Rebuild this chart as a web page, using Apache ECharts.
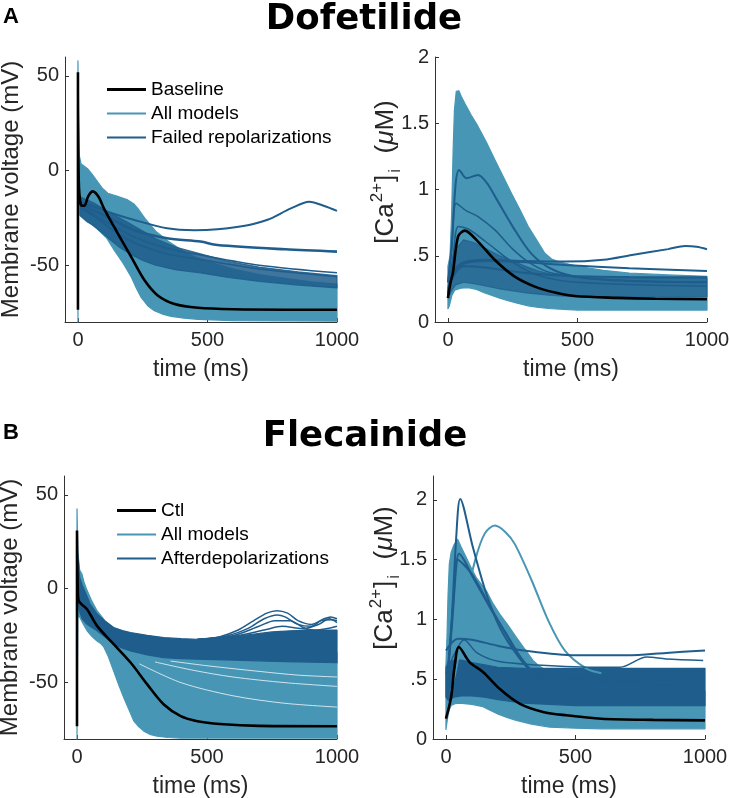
<!DOCTYPE html>
<html>
<head>
<meta charset="utf-8">
<title>Dofetilide / Flecainide</title>
<script src="https://cdn.jsdelivr.net/npm/echarts@6.0.0/dist/echarts.min.js"></script>
<style>
  html, body { margin: 0; padding: 0; background: #fff; }
  #chart { width: 730px; height: 798px; }
</style>
</head>
<body>
<div id="chart"></div>
<script>
const LIGHT = '#4796b5'
const DARK = '#1f5d8c'
const AXIS = '#333333'
const FONT = '"Liberation Sans", Arial, sans-serif'

// ---------- data: [time (ms), value] ----------
// A, membrane voltage (mV)
const alBaseline = [[0,-73.5],[0,52],[3,-5],[11,-18],[24,-18.6],[40,-13.5],[57,-11],[80,-14],[102,-20.5],[153,-33],[205,-45.5],[257,-58],[308,-66],[373,-70.5],[463,-72.5],[600,-73.3],[800,-73.5],[1000,-73.5]]
const alAllUpper = [[0,58],[2,30],[5,8],[12,3.5],[18,3],[37,1],[55,-2],[76,-6],[95,-9.5],[115,-12],[150,-13.5],[192,-15.5],[215,-17.5],[231,-20],[257,-25],[300,-32],[350,-37.5],[400,-42],[450,-45.5],[500,-48],[600,-52],[700,-55],[800,-57],[900,-58.8],[1000,-60]]
const alAllLower = [[0,-80],[2,-23],[11,-24],[40,-27],[76,-31],[110,-35.5],[140,-42],[175,-49],[205,-56],[225,-62],[244,-67],[270,-71.5],[295,-74],[330,-76],[360,-77],[410,-78],[463,-78.6],[600,-79.3],[1000,-79.5]]
const alFailUpper = [[10,-14],[35,-15.5],[60,-17],[90,-19.5],[120,-22],[160,-25],[200,-28],[250,-32],[300,-36],[380,-40.5],[473,-44],[580,-48],[700,-51],[850,-53.5],[1000,-55.5]]
const alFailLower = [[10,-24],[35,-27],[60,-29],[90,-32.5],[120,-36],[160,-40.5],[200,-44],[250,-47.5],[300,-50],[380,-52.5],[473,-54],[580,-56.5],[700,-58.5],[850,-60.5],[1000,-62]]
const alFail1 = [[10,-17],[60,-19],[120,-22],[215,-26],[344,-30.5],[450,-31.5],[538,-31],[650,-29],[732,-26],[822,-20],[893,-16.5],[951,-18.7],[1000,-21.3]]
const alFail2 = [[10,-18],[60,-21],[120,-25],[215,-31.4],[344,-35.8],[473,-37.5],[538,-39.3],[800,-41.6],[1000,-42.8]]
const alFail3 = [[10,-19],[60,-23],[120,-28],[215,-35],[344,-41],[473,-44.6],[700,-50],[1000,-54]]
const alFail4 = [[10,-20],[60,-24],[120,-30],[215,-38],[344,-44],[473,-47],[700,-52],[1000,-56]]

// A, [Ca2+]i (uM)
const arBaseline = [[0,0.18],[10,0.3],[19,0.37],[39,0.645],[65,0.69],[116,0.607],[181,0.468],[258,0.342],[335,0.267],[413,0.222],[490,0.196],[650,0.182],[800,0.175],[1000,0.172]]
const arAllUpper = [[0,0.42],[8,0.5],[14,0.8],[20,1.3],[25,1.6],[32,1.74],[42,1.745],[52,1.7],[65,1.65],[90,1.56],[116,1.476],[150,1.35],[181,1.224],[215,1.09],[245,0.972],[280,0.84],[310,0.72],[345,0.61],[374,0.519],[400,0.475],[426,0.456],[500,0.42],[600,0.39],[700,0.37],[850,0.355],[1000,0.345]]
const arAllLower = [[0,0.1],[5,0.12],[15,0.2],[26,0.24],[50,0.255],[78,0.26],[110,0.245],[142,0.22],[170,0.2],[200,0.18],[235,0.16],[271,0.14],[310,0.122],[350,0.11],[400,0.1],[500,0.09],[700,0.09],[1000,0.09]]
const arFailUpper = [[5,0.32],[18,0.45],[30,0.55],[60,0.62],[100,0.6],[150,0.55],[200,0.5],[250,0.46],[300,0.42],[350,0.385],[400,0.36],[500,0.34],[700,0.335],[1000,0.33]]
const arFailLower = [[5,0.2],[18,0.25],[30,0.28],[60,0.3],[100,0.29],[150,0.27],[200,0.25],[250,0.235],[300,0.22],[350,0.21],[400,0.2],[500,0.19],[700,0.19],[1000,0.19]]
const arFail1 = [[0,0.3],[15,0.6],[30,1.05],[43,1.148],[71,1.085],[116,1.11],[150,1.05],[181,0.95],[250,0.72],[320,0.52],[400,0.4],[500,0.34],[700,0.31],[1000,0.3]]
const arFail2 = [[0,0.3],[15,0.55],[32,0.897],[70,0.84],[116,0.796],[181,0.695],[250,0.55],[320,0.44],[400,0.37],[600,0.32],[1000,0.3]]
const arFail3 = [[0,0.22],[20,0.38],[60,0.45],[150,0.47],[300,0.46],[452,0.456],[600,0.47],[710,0.506],[850,0.55],[916,0.574],[960,0.568],[1000,0.549]]
const arFail4 = [[0,0.22],[20,0.36],[60,0.44],[150,0.46],[300,0.45],[452,0.43],[700,0.405],[1000,0.385]]
const arFail5 = [[0,0.2],[20,0.34],[60,0.42],[150,0.41],[300,0.37],[452,0.35],[700,0.34],[1000,0.338]]
const arFail6 = [[0,0.25],[20,0.5],[40,0.72],[80,0.7],[150,0.6],[250,0.45],[350,0.35],[500,0.3],[1000,0.27]]

// B, membrane voltage (mV)
const blCtl = [[0,-73.2],[0,31],[3,0],[6.5,-6.4],[38.6,-10.9],[77,-19.8],[141,-29.5],[206,-39.3],[270,-50.9],[334,-61.6],[399,-67.8],[463,-70.5],[550,-72],[700,-73],[1000,-73.2]]
const blAllUpper = [[0,42.5],[3,20],[10,10],[19,7.8],[28,3],[39,-1],[55,-6],[77,-11.7],[110,-17.5],[150,-22],[200,-25],[250,-27],[320,-28.8],[400,-30],[500,-31],[600,-32],[800,-33],[1000,-34]]
const blAllLower = [[0,-80],[3,-14],[11,-15.3],[25,-19],[39,-22.4],[58,-25.5],[77,-27.8],[90,-29],[103,-31],[120,-36],[141,-43.8],[160,-51],[180,-58],[200,-64.5],[219,-70.5],[238,-73.5],[257,-75.8],[280,-77.5],[308,-78.5],[350,-79.2],[400,-79.5],[1000,-79.5]]
const blAfterUpper = [[5,15],[10,6],[20,2],[35,-3],[50,-8],[77,-13.5],[110,-17.5],[141,-20.7],[175,-22.3],[206,-23.3],[270,-24.8],[334,-26],[400,-26.6],[463,-26.9],[530,-26.4],[600,-25.5],[680,-24.2],[750,-23],[820,-22.4],[900,-22],[1000,-22]]
const blAfterLower = [[5,-8],[10,-12],[20,-16],[35,-18.5],[50,-20],[77,-22.4],[110,-26],[141,-29.5],[175,-31.6],[206,-33.1],[270,-35.2],[334,-36.7],[400,-37.2],[463,-37.5],[600,-38],[800,-38.8],[1000,-39.4]]
const blAfter1 = [[463,-27],[550,-25.5],[620,-22],[680,-17],[730,-13],[769,-11.7],[810,-13],[850,-17],[900,-19],[950,-16],[975,-15],[1000,-16]]
const blAfter2 = [[463,-27],[580,-25],[660,-21],[720,-16],[770,-14],[800,-15],[850,-19],[900,-20],[940,-17],[980,-16.5],[1000,-17]]
const blAfter3 = [[463,-27],[600,-25],[700,-20],[760,-17],[820,-17],[880,-21],[930,-19],[970,-16],[1000,-18]]
const blAfter4 = [[463,-27],[620,-25],[720,-22],[790,-20],[850,-21],[920,-22],[1000,-20]]
// thin white gaps between the light traces, right half of panel B left
const blGap1 = [[300,-39],[450,-43.5],[600,-47],[800,-50],[1000,-52]]
const blGap2 = [[360,-38.5],[500,-41],[700,-44],[850,-46],[1000,-47]]
const blGap3 = [[240,-40],[400,-50],[600,-57],[800,-61],[1000,-63]]

// B, [Ca2+]i (uM)
const brCtl = [[0,0.17],[20,0.35],[33,0.6],[50,0.77],[91,0.643],[143,0.56],[207,0.42],[284,0.296],[375,0.226],[465,0.198],[600,0.17],[800,0.16],[1000,0.156]]
const brAllUpper = [[0,0.62],[4,0.85],[8,1.2],[13,1.465],[20,1.56],[30,1.62],[45,1.67],[60,1.6],[78,1.52],[100,1.42],[117,1.35],[135,1.3],[156,1.24],[180,1.14],[207,1.047],[240,0.95],[271,0.852],[305,0.75],[336,0.657],[360,0.61],[387,0.574],[420,0.535],[450,0.5],[520,0.45],[600,0.42],[800,0.4],[1000,0.4]]
const brAllLower = [[0,0.08],[4,0.14],[8,0.2],[14,0.25],[20,0.28],[35,0.295],[53,0.3],[100,0.29],[143,0.27],[170,0.24],[200,0.21],[235,0.18],[271,0.156],[330,0.125],[400,0.1],[500,0.09],[600,0.085],[1000,0.085]]
const brAfterUpper = [[0,0.6],[10,0.64],[30,0.66],[60,0.66],[100,0.64],[150,0.62],[200,0.6],[300,0.59],[500,0.59],[1000,0.59]]
const brAfterLower = [[0,0.35],[10,0.32],[30,0.35],[60,0.36],[100,0.36],[150,0.35],[200,0.33],[300,0.3],[400,0.29],[500,0.28],[1000,0.28]]
const brAfter1 = [[5,0.5],[20,0.9],[40,1.7],[55,2.008],[104,1.604],[156,1.215],[207,0.936],[271,0.713],[336,0.56],[450,0.52],[700,0.5],[1000,0.5]]
const brAfter2 = [[5,0.5],[25,1.0],[40,1.45],[50,1.549],[104,1.353],[169,1.103],[233,0.88],[297,0.657],[362,0.518],[450,0.48],[1000,0.45]]
const brAfter3 = [[0,0.74],[46,0.839],[100,0.83],[200,0.78],[300,0.74],[500,0.7],[700,0.7],[850,0.72],[1000,0.741]]
const brAfter4 = [[0,0.55],[30,0.7],[70,0.83],[120,0.72],[200,0.65],[350,0.62],[600,0.6],[672,0.6],[775,0.685],[850,0.67],[993,0.657]]
const brAfter5 = [[5,0.5],[30,1.2],[45,1.5],[100,1.38],[160,1.15],[220,0.92],[280,0.7],[340,0.55],[420,0.5],[1000,0.46]]
const brAll1 = [[20,0.4],[45,0.65],[73,1.1],[112,1.49],[150,1.72],[189,1.785],[230,1.73],[266,1.63],[331,1.326],[395,0.99],[459,0.74],[543,0.588],[600,0.55]]

const timeTicks = [0, 500, 1000]
const voltTicks = [-50, 0, 50]
const caTicks = [0, 0.5, 1, 1.5, 2]

// ---------- helpers ----------
function band(name, upper, lower, color, gi, opacity) {
  const pts = upper.concat(lower.slice().reverse())
  return {
    type: 'custom', name, xAxisIndex: gi, yAxisIndex: gi, data: pts,
    encode: { x: 0, y: 1 }, silent: true,
    renderItem(params, api) {
      if (params.dataIndex !== 0) return null
      return {
        type: 'polygon',
        shape: { points: pts.map((p) => api.coord(p)) },
        style: { fill: color, stroke: color, lineWidth: 1.2, lineJoin: 'round', opacity: opacity || 1 },
      }
    },
  }
}

function trace(name, pts, color, gi, width, opacity) {
  return {
    type: 'line', name, xAxisIndex: gi, yAxisIndex: gi, data: pts,
    symbol: 'none', smooth: 0.3, silent: true,
    lineStyle: { color, width: width || 1.5, opacity: opacity == null ? 1 : opacity },
    itemStyle: { color },
  }
}

function xAxis(gi) {
  return {
    type: 'value', gridIndex: gi, min: -50, max: 1000,
    name: 'time (ms)', nameLocation: 'middle', nameGap: 36,
    nameTextStyle: { fontSize: 23, color: '#262626', fontFamily: FONT },
    axisLine: { onZero: false, lineStyle: { color: AXIS } },
    axisTick: { inside: true, length: 4, customValues: timeTicks, lineStyle: { color: AXIS } },
    axisLabel: { customValues: timeTicks, fontSize: 20, color: '#262626', fontFamily: FONT, margin: 8, formatter: (v) => String(v) },
    splitLine: { show: false },
  }
}

function yAxis(gi, min, max, ticks, name, fmt) {
  return {
    type: 'value', gridIndex: gi, min, max,
    name, nameLocation: 'middle', nameGap: 42,
    nameTextStyle: { fontSize: 24, color: '#262626', fontFamily: FONT },
    axisLine: { show: true, onZero: false, lineStyle: { color: AXIS } },
    axisTick: { show: true, inside: true, length: 4, customValues: ticks, lineStyle: { color: AXIS } },
    axisLabel: { customValues: ticks, fontSize: 20, color: '#262626', fontFamily: FONT, margin: 6, formatter: fmt || ((v) => String(v)) },
    splitLine: { show: false },
  }
}

const caFmt = (v) => (v === 0 ? '0' : String(v).replace(/^0\./, '.'))

// rotated [Ca2+]i label, drawn as rich text
function caLabel(x, y) {
  return {
    type: 'text', x, y, rotation: Math.PI / 2, silent: true,
    style: {
      text: '[Ca{sup|2+}]{sub|i}  ({mu|μ}M)',
      font: '26px ' + FONT, fill: '#262626', align: 'center', verticalAlign: 'middle', lineHeight: 35,
      rich: {
        sup: { fontSize: 17, fontFamily: FONT, verticalAlign: 'top', lineHeight: 17, padding: [0, 1, 0, 1] },
        sub: { fontSize: 17, fontFamily: FONT, verticalAlign: 'bottom', lineHeight: 17, padding: [0, 1, 0, 2] },
        mu: { fontSize: 26, fontFamily: FONT, fontStyle: 'italic' },
      },
    },
  }
}

const lineIcon = (h) => 'path://M0,0H40V' + h + 'H0Z'

const chart = echarts.init(document.getElementById('chart'))
chart.setOption({
  backgroundColor: '#fff',
  animation: false,
  grid: [
    { left: 65, top: 57, width: 272, height: 265, outerBoundsMode: 'none' },
    { left: 435, top: 57, width: 272, height: 265, outerBoundsMode: 'none' },
    { left: 64, top: 476, width: 273, height: 263, outerBoundsMode: 'none' },
    { left: 433, top: 476, width: 272, height: 263, outerBoundsMode: 'none' },
  ],
  xAxis: [xAxis(0), xAxis(1), xAxis(2), xAxis(3)],
  yAxis: [
    yAxis(0, -80, 60, voltTicks, 'Membrane voltage (mV)'),
    yAxis(1, 0, 2, caTicks, '', caFmt),
    yAxis(2, -80, 60, voltTicks, 'Membrane voltage (mV)'),
    yAxis(3, 0, 2.2, caTicks, '', caFmt),
  ],
  legend: [
    {
      left: 107, top: 80, padding: 0, orient: 'vertical', itemWidth: 39, itemHeight: 4, itemGap: 5,
      selectedMode: false,
      textStyle: { fontSize: 19, color: '#000', fontFamily: FONT },
      data: [
        { name: 'Baseline', icon: lineIcon(3.2), itemStyle: { color: '#000' } },
        { name: 'All models', icon: lineIcon(2.2), itemStyle: { color: LIGHT } },
        { name: 'Failed repolarizations', icon: lineIcon(2.2), itemStyle: { color: DARK } },
      ],
    },
    {
      left: 117, top: 501, padding: 0, orient: 'vertical', itemWidth: 39, itemHeight: 4, itemGap: 5,
      selectedMode: false,
      textStyle: { fontSize: 19, color: '#000', fontFamily: FONT },
      data: [
        { name: 'Ctl', icon: lineIcon(3.2), itemStyle: { color: '#000' } },
        { name: 'All models', icon: lineIcon(2.2), itemStyle: { color: LIGHT } },
        { name: 'Afterdepolarizations', icon: lineIcon(2.2), itemStyle: { color: DARK } },
      ],
    },
  ],
  graphic: [
    { type: 'text', left: 3, top: 6, style: { text: 'A', font: 'bold 22px ' + FONT, fill: '#000' } },
    { type: 'text', left: 3, top: 422, style: { text: 'B', font: 'bold 22px ' + FONT, fill: '#000' } },
    { type: 'text', x: 364, y: 20, style: { text: 'Dofetilide', font: 'bold 35.5px "DejaVu Sans"', fill: '#000', align: 'center', verticalAlign: 'middle' } },
    { type: 'text', x: 365, y: 437, style: { text: 'Flecainide', font: 'bold 35.5px "DejaVu Sans"', fill: '#000', align: 'center', verticalAlign: 'middle' } },
    caLabel(386, 172),
    caLabel(385, 578),
  ],
  series: [
    // A left
    band('All models', alAllUpper, alAllLower, LIGHT, 0),
    band('Failed repolarizations', alFailUpper, alFailLower, DARK, 0, 0.85),
    trace('Failed repolarizations', alFail1, DARK, 0, 2),
    trace('Failed repolarizations', alFail2, DARK, 0, 2.6),
    trace('Failed repolarizations', alFail3, DARK, 0),
    trace('Failed repolarizations', alFail4, DARK, 0),
    trace('Baseline', alBaseline, '#000', 0, 2.6),
    // A right
    band('All models', arAllUpper, arAllLower, LIGHT, 1),
    band('Failed repolarizations', arFailUpper, arFailLower, DARK, 1, 0.7),
    trace('Failed repolarizations', arFail1, DARK, 1, 2),
    trace('Failed repolarizations', arFail2, DARK, 1),
    trace('Failed repolarizations', arFail3, DARK, 1, 2),
    trace('Failed repolarizations', arFail4, DARK, 1, 2),
    trace('Failed repolarizations', arFail5, DARK, 1, 2),
    trace('Failed repolarizations', arFail6, DARK, 1),
    trace('Baseline', arBaseline, '#000', 1, 2.6),
    // B left
    band('All models', blAllUpper, blAllLower, LIGHT, 2),
    trace('gap', blGap1, '#ffffff', 2, 1, 0.75),
    trace('gap', blGap2, '#ffffff', 2, 1, 0.75),
    trace('gap', blGap3, '#ffffff', 2, 1, 0.75),
    band('Afterdepolarizations', blAfterUpper, blAfterLower, DARK, 2),
    trace('Afterdepolarizations', blAfter1, DARK, 2),
    trace('Afterdepolarizations', blAfter2, DARK, 2),
    trace('Afterdepolarizations', blAfter3, DARK, 2),
    trace('Afterdepolarizations', blAfter4, DARK, 2),
    trace('Ctl', blCtl, '#000', 2, 2.6),
    // B right
    band('All models', brAllUpper, brAllLower, LIGHT, 3),
    trace('All models', brAll1, LIGHT, 3, 2),
    band('Afterdepolarizations', brAfterUpper, brAfterLower, DARK, 3),
    trace('Afterdepolarizations', brAfter1, DARK, 3, 2),
    trace('Afterdepolarizations', brAfter2, DARK, 3, 2),
    trace('Afterdepolarizations', brAfter3, DARK, 3, 2),
    trace('Afterdepolarizations', brAfter4, DARK, 3),
    trace('Afterdepolarizations', brAfter5, DARK, 3, 2),
    trace('Ctl', brCtl, '#000', 3, 2.6),
  ],
})

window.addEventListener('resize', () => chart.resize())
</script>
</body>
</html>
